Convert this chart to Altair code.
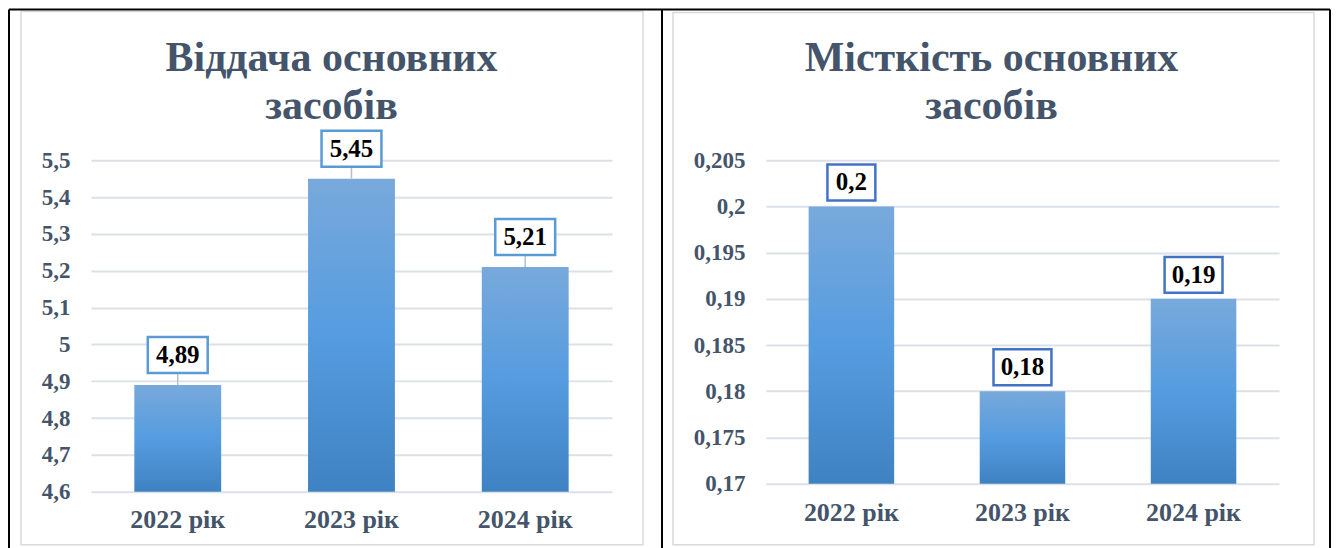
import altair as alt
import pandas as pd

years = ["2022 рік", "2023 рік", "2024 рік"]
vidacha = [4.89, 5.45, 5.21]
mistkist = [0.2, 0.18, 0.19]
vidacha_ticks = [4.6, 4.7, 4.8, 4.9, 5.0, 5.1, 5.2, 5.3, 5.4, 5.5]
mistkist_ticks = [0.17, 0.175, 0.18, 0.185, 0.19, 0.195, 0.2, 0.205]
title_left = ["Віддача основних", "засобів"]
title_right = ["Місткість основних", "засобів"]

FONT = "Liberation Serif"
SLATE = "#44546A"
GRID = "#DCE1E8"
LABEL_EXPR = "replace(format(datum.value, '~g'), '.', ',')"

gradient = alt.Gradient(
    gradient="linear",
    stops=[
        alt.GradientStop(color="#78A9DB", offset=0),
        alt.GradientStop(color="#559CE0", offset=0.5),
        alt.GradientStop(color="#3F82C2", offset=1),
    ],
    x1=0, x2=0, y1=0, y2=1,
)

one = alt.Data(values=[{}])


def panel(values, ticks, domain, title, title_x, width, height, box_color,
          box_top, box_bottom, text_dy, long_w, short_w, leader,
          frame, vlines, hline, xpad):
    df = pd.DataFrame({"year": years, "value": values})
    base = alt.Chart(df).transform_calculate(label=LABEL_EXPR)
    x = alt.X(
        "year:N", sort=years, title=None,
        scale=alt.Scale(paddingInner=0.5, paddingOuter=0.25),
        axis=alt.Axis(labelAngle=0, domain=False, ticks=False, labelFont=FONT,
                      labelFontSize=26, labelFontWeight="bold", labelColor=SLATE,
                      labelPadding=xpad),
    )
    y = alt.Y(
        "value:Q", title=None,
        scale=alt.Scale(domain=domain, nice=False, zero=False),
        axis=alt.Axis(values=ticks, domain=False, ticks=False, grid=True,
                      gridColor=GRID, gridWidth=2, labelFont=FONT,
                      labelFontSize=23, labelFontWeight="bold", labelColor=SLATE,
                      labelExpr=LABEL_EXPR, labelPadding=21, labelOverlap=False),
    )
    y2 = alt.Y2("value")

    fr = alt.Chart(one).mark_rect(fill="white", fillOpacity=0, stroke="#D9D9D9",
                                  strokeWidth=1.5).encode(
        x=alt.value(frame[0]), x2=alt.value(frame[1]),
        y=alt.value(frame[2]), y2=alt.value(frame[3]))
    layers = [fr]
    for vx in vlines:
        layers.append(alt.Chart(one).mark_rule(color="black", strokeWidth=2).encode(
            x=alt.value(vx), y=alt.value(hline[2]), y2=alt.value(430)))
    layers.append(alt.Chart(one).mark_rule(color="black", strokeWidth=2).encode(
        x=alt.value(hline[0]), x2=alt.value(hline[1]), y=alt.value(hline[2])))

    layers.append(alt.Chart(one).mark_text(
        text=title, font=FONT, fontSize=42, fontWeight="bold", color=SLATE,
        lineHeight=48, baseline="alphabetic", align="center").encode(
        x=alt.value(title_x), y=alt.value(-89)))

    bars = base.mark_bar(fill=gradient).encode(
        x=x, y=y, y2=alt.Y2(datum=domain[0]))
    layers.append(bars)
    if leader:
        layers.append(base.mark_rule(color="#B4BFCC", strokeWidth=1.5,
                                     y2Offset=box_bottom).encode(x=x, y=y, y2=y2))
    layers.append(base.transform_filter("length(datum.label) > 3").mark_bar(
        width=long_w, yOffset=box_top, y2Offset=box_bottom, fill="white",
        stroke=box_color, strokeWidth=2.5).encode(x=x, y=y, y2=y2))
    layers.append(base.transform_filter("length(datum.label) <= 3").mark_bar(
        width=short_w, yOffset=box_top, y2Offset=box_bottom, fill="white",
        stroke=box_color, strokeWidth=2.5).encode(x=x, y=y, y2=y2))
    layers.append(base.mark_text(dy=text_dy, font=FONT, fontSize=25, fontWeight="bold",
                                 color="black", baseline="middle").encode(
        x=x, y=y, text="label:N"))

    return alt.layer(*layers).properties(width=width, height=height)


left = panel(vidacha, vidacha_ticks, [4.6, 5.5], title_left, 241, 522, 332,
             "#5B9BD5", -48, -12, -30, 60, 48, True,
             frame=(-70, 553, -149, 385), vlines=[-82], hline=(-82, 572, -151),
             xpad=15)
right = panel(mistkist, mistkist_ticks, [0.17, 0.205], title_right, 226, 514, 324,
              "#4472C4", -42, -6, -24, 58, 48, False,
              frame=(-93, 549, -148, 385), vlines=[-104, 565], hline=(-104, 565, -151),
              xpad=16)

chart = alt.hconcat(left, right, spacing=154, bounds="flush").properties(
    padding=0, background="white"
).configure_view(stroke=None)

chart.save("out.html", embed_options={"renderer": "svg", "actions": False})
